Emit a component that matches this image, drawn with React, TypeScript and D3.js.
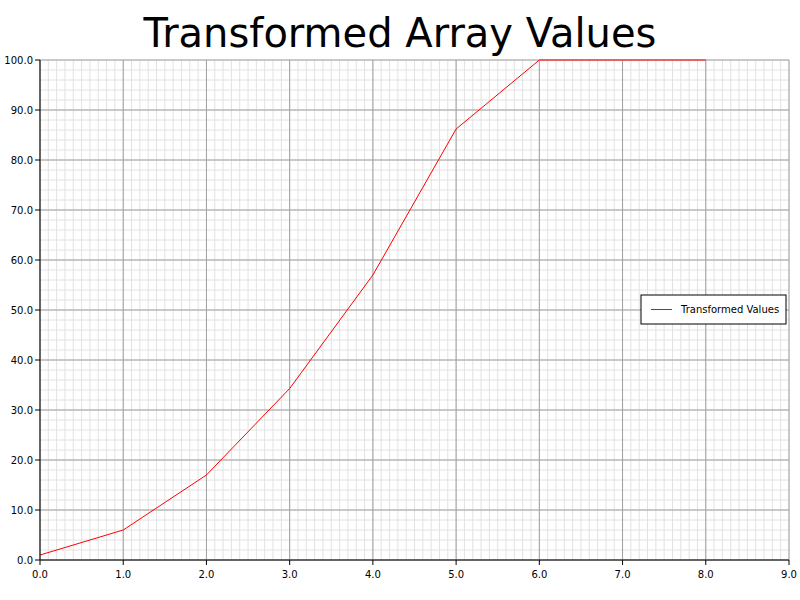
import React from "react";
import * as d3 from "d3";

const xValues = [0, 1, 2, 3, 4, 5, 6, 7, 8];
const yValues = [1, 6, 17, 34.3, 57, 86.2, 100, 100, 100];
const xTicks = [0, 1, 2, 3, 4, 5, 6, 7, 8, 9];
const yTicks = [0, 10, 20, 30, 40, 50, 60, 70, 80, 90, 100];

export default function App() {
  const W = 800, H = 600;
  const L = 40, R = 789, T = 60, B = 560;
  const x = d3.scaleLinear().domain([0, 9]).range([L, R]);
  const y = d3.scaleLinear().domain([0, 100]).range([B, T]);
  const minorX = d3.range(0, 91, 1).map((v) => v / 10);
  const minorY = d3.range(0, 101, 2);
  const line = d3.line<number>().x((_, i) => x(xValues[i])).y((d) => y(d));
  const font = "DejaVu Sans, sans-serif";
  return (
    <svg width={W} height={H} style={{ position: "absolute", left: 0, top: 0, background: "#fff" }}>
      <rect width={W} height={H} fill="#fff" />
      <text x={400} y={47} textAnchor="middle" fontFamily={font} fontSize={40}>Transformed Array Values</text>
      {minorX.map((v, i) => (
        <line key={"mx" + i} x1={x(v)} x2={x(v)} y1={T} y2={B} stroke="#e2e2e2" strokeWidth={1} />
      ))}
      {minorY.map((v, i) => (
        <line key={"my" + i} x1={L} x2={R} y1={y(v)} y2={y(v)} stroke="#e2e2e2" strokeWidth={1} />
      ))}
      {xTicks.map((v) => (
        <line key={"gx" + v} x1={x(v)} x2={x(v)} y1={T} y2={B} stroke="#a0a0a0" strokeWidth={1} />
      ))}
      {yTicks.map((v) => (
        <line key={"gy" + v} x1={L} x2={R} y1={y(v)} y2={y(v)} stroke="#a0a0a0" strokeWidth={1} />
      ))}
      <path d={line(yValues) || ""} fill="none" stroke="red" strokeWidth={1} />
      <line x1={L} x2={L} y1={T} y2={B} stroke="#000" />
      <line x1={L} x2={R} y1={B} y2={B} stroke="#000" />
      {xTicks.map((v) => (
        <g key={"tx" + v}>
          <line x1={x(v)} x2={x(v)} y1={B} y2={B + 5} stroke="#000" />
          <text x={x(v)} y={B + 18} textAnchor="middle" fontFamily={font} fontSize={10}>{v.toFixed(1)}</text>
        </g>
      ))}
      {yTicks.map((v) => (
        <g key={"ty" + v}>
          <line x1={L - 5} x2={L} y1={y(v)} y2={y(v)} stroke="#000" />
          <text x={L - 7} y={y(v) + 3.5} textAnchor="end" fontFamily={font} fontSize={10}>{v.toFixed(1)}</text>
        </g>
      ))}
      <rect x={641} y={295} width={145} height={29} fill="#fff" stroke="#000" />
      <line x1={651} x2={672} y1={309.5} y2={309.5} stroke="red" />
      <text x={681} y={313} fontFamily={font} fontSize={10}>Transformed Values</text>
    </svg>
  );
}
